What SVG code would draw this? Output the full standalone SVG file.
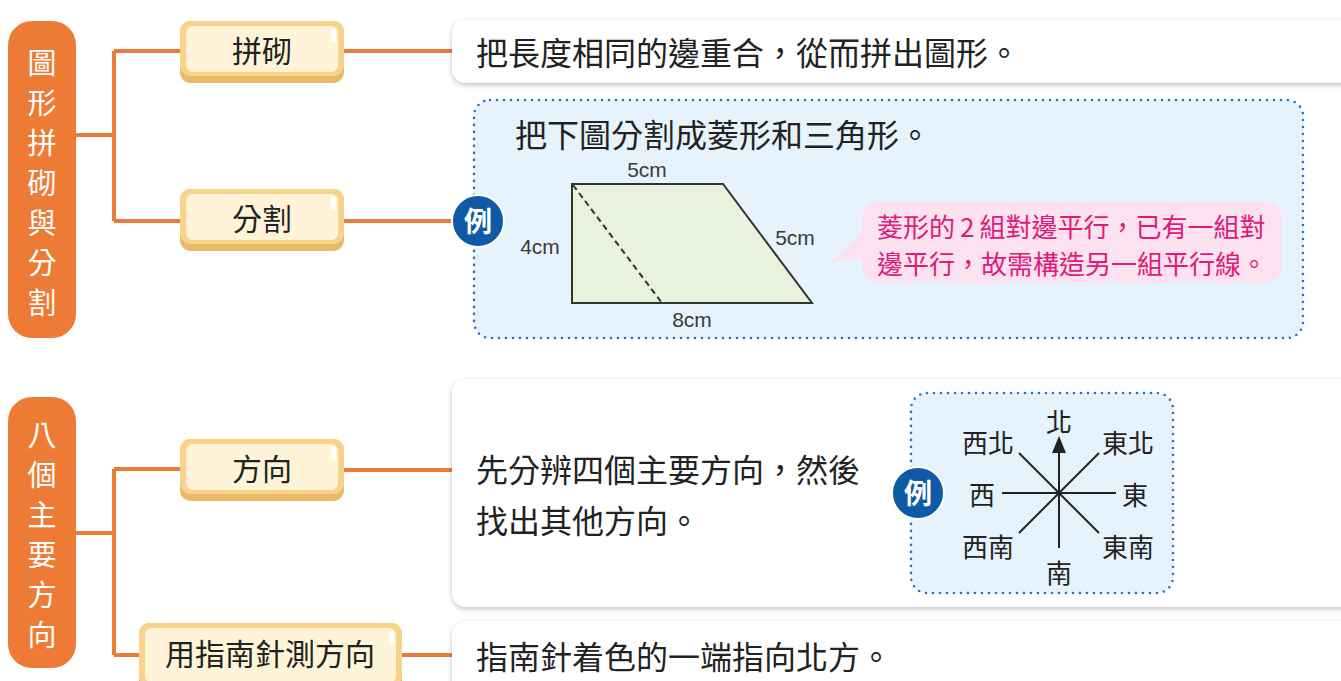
<svg xmlns="http://www.w3.org/2000/svg" width="1341" height="681" viewBox="0 0 1341 681">
<defs>
<style>
.lbl{font-family:"Noto Sans CJK TC",sans-serif;font-size:30px;fill:#222;dominant-baseline:central;}
.vt{font-family:"Noto Sans CJK TC",sans-serif;font-size:29px;fill:#fff;text-anchor:middle;dominant-baseline:central;}
.body{font-family:"Noto Sans CJK TC",sans-serif;font-size:32px;fill:#222;dominant-baseline:central;}
.pink{font-family:"Noto Sans CJK TC",sans-serif;font-size:26px;fill:#e0197a;dominant-baseline:central;}
.dir{font-family:"Noto Sans CJK TC",sans-serif;font-size:26px;fill:#222;text-anchor:middle;dominant-baseline:central;}
.meas{font-family:"Liberation Sans",Arial,sans-serif;font-size:21px;fill:#3a3a3a;text-anchor:middle;dominant-baseline:central;}
.orange{fill:#ee7b35;}
.conn{stroke:#ee7b35;stroke-width:4;fill:none;}
.card{fill:#fff;filter:url(#sh);}
.dotbox{fill:#e6f3fc;stroke:#2f6fc0;stroke-width:2.6;stroke-dasharray:0 7;stroke-linecap:round;}
.pbase{fill:#e8b967;}
.pmid{fill:#f7d38b;}
.pin{fill:#fff4d7;}
.hl{fill:#fff;}
.ex{fill:#0e5aa7;stroke:#fff;stroke-width:2;}
.ext{font-family:"Noto Sans CJK TC",sans-serif;font-size:28px;font-weight:bold;fill:#fff;text-anchor:middle;dominant-baseline:central;}
</style>
<filter id="sh" x="-5%" y="-20%" width="110%" height="140%">
<feDropShadow dx="0" dy="2" stdDeviation="2.5" flood-color="#000" flood-opacity="0.25"/>
</filter>
</defs>
<rect width="1341" height="681" fill="#fff"/>

<g id="connectors">
<path class="conn" d="M76,135 H114 M114,51 V221 M114,51 H182 M114,221 H182"/>
<path class="conn" d="M343,51 H454"/>
<path class="conn" d="M343,221 H454"/>
<path class="conn" d="M76,533 H114 M114,469 V655 M114,469 H182 M114,655 H141"/>
<path class="conn" d="M343,470 H454"/>
<path class="conn" d="M401,655 H454"/>
</g>

<g id="topic1">
<rect class="orange" x="8" y="21" width="68" height="317" rx="24"/>
<text class="vt"><tspan x="42" y="61">圖</tspan><tspan x="42" y="101">形</tspan><tspan x="42" y="141">拼</tspan><tspan x="42" y="181">砌</tspan><tspan x="42" y="221">與</tspan><tspan x="42" y="261">分</tspan><tspan x="42" y="301">割</tspan></text>
</g>

<g id="topic2">
<rect class="orange" x="8" y="397" width="68" height="271" rx="24"/>
<text class="vt"><tspan x="42" y="433">八</tspan><tspan x="42" y="473">個</tspan><tspan x="42" y="513">主</tspan><tspan x="42" y="553">要</tspan><tspan x="42" y="593">方</tspan><tspan x="42" y="633">向</tspan></text>
</g>

<g id="pill-pinqi">
<rect class="pbase" x="180" y="21" width="164" height="62" rx="11"/>
<rect class="pmid" x="180" y="21" width="164" height="55" rx="11"/>
<rect class="pin" x="186" y="26" width="152" height="46" rx="7"/>
<rect class="hl" x="331" y="29" width="5" height="13" rx="2.5"/>
<text class="lbl" x="262" y="49" text-anchor="middle">拼砌</text>
</g>

<g id="pill-fenge">
<rect class="pbase" x="180" y="189" width="164" height="62" rx="11"/>
<rect class="pmid" x="180" y="189" width="164" height="55" rx="11"/>
<rect class="pin" x="186" y="194" width="152" height="46" rx="7"/>
<rect class="hl" x="331" y="197" width="5" height="13" rx="2.5"/>
<text class="lbl" x="262" y="217" text-anchor="middle">分割</text>
</g>

<g id="pill-fangxiang">
<rect class="pbase" x="180" y="439" width="164" height="62" rx="11"/>
<rect class="pmid" x="180" y="439" width="164" height="55" rx="11"/>
<rect class="pin" x="186" y="444" width="152" height="46" rx="7"/>
<rect class="hl" x="331" y="447" width="5" height="13" rx="2.5"/>
<text class="lbl" x="262" y="467" text-anchor="middle">方向</text>
</g>

<g id="pill-compass">
<rect class="pbase" x="139" y="623" width="263" height="70" rx="11"/>
<rect class="pmid" x="139" y="623" width="263" height="64" rx="11"/>
<rect class="pin" x="145" y="628" width="251" height="55" rx="7"/>
<rect class="hl" x="389" y="631" width="5" height="13" rx="2.5"/>
<text class="lbl" x="270" y="652" text-anchor="middle">用指南針測方向</text>
</g>

<g id="card-pinqi">
<rect class="card" x="452" y="20" width="910" height="63" rx="14"/>
<text class="body" x="476" y="51">把長度相同的邊重合，從而拼出圖形。</text>
</g>

<g id="example-fenge">
<rect class="dotbox" x="474" y="100" width="829" height="238" rx="16"/>
<text class="body" x="515" y="133">把下圖分割成菱形和三角形。</text>
<polygon points="572,184 723,184 812,303 572,303" fill="#e9f2dc" stroke="#333" stroke-width="2"/>
<line x1="573" y1="185" x2="662" y2="303" stroke="#333" stroke-width="2" stroke-dasharray="6 4"/>
<text class="meas" x="647" y="169">5cm</text>
<text class="meas" x="540" y="246">4cm</text>
<text class="meas" x="795" y="237">5cm</text>
<text class="meas" x="692" y="319">8cm</text>
<path d="M882,202 H1262 Q1282,202 1282,222 V263 Q1282,283 1262,283 H882 Q862,283 862,263 V258 L830,263 L862,232 V222 Q862,202 882,202 Z" fill="#fbe2ee"/>
<text class="pink" x="877" y="225">菱形的<tspan dx="5">2</tspan><tspan dx="5">組對邊平行，已有一組對</tspan></text>
<text class="pink" x="877" y="262">邊平行，故需構造另一組平行線。</text>
<circle class="ex" cx="478" cy="221" r="26"/>
<text class="ext" x="478" y="220">例</text>
</g>

<g id="card-fangxiang">
<rect class="card" x="452" y="379" width="910" height="228" rx="14"/>
<text class="body" x="476" y="468">先分辨四個主要方向，然後</text>
<text class="body" x="476" y="519">找出其他方向。</text>
<rect class="dotbox" x="911" y="393" width="262" height="200" rx="16"/>
<g stroke="#222" stroke-width="2">
<line x1="1002" y1="493" x2="1116" y2="493"/>
<line x1="1059" y1="548" x2="1059" y2="452"/>
<line x1="1019" y1="453" x2="1099" y2="533"/>
<line x1="1099" y1="453" x2="1019" y2="533"/>
</g>
<polygon points="1059,436 1052,453 1066,453" fill="#222"/>
<text class="dir" x="1059" y="420">北</text>
<text class="dir" x="988" y="441">西北</text>
<text class="dir" x="1128" y="441">東北</text>
<text class="dir" x="982" y="493">西</text>
<text class="dir" x="1135" y="493">東</text>
<text class="dir" x="988" y="545">西南</text>
<text class="dir" x="1128" y="545">東南</text>
<text class="dir" x="1059" y="571">南</text>
<circle class="ex" cx="918" cy="493" r="26"/>
<text class="ext" x="918" y="492">例</text>
</g>

<g id="card-compass">
<rect class="card" x="452" y="621" width="910" height="80" rx="14"/>
<text class="body" x="476" y="655">指南針着色的一端指向北方。</text>
</g>
</svg>
